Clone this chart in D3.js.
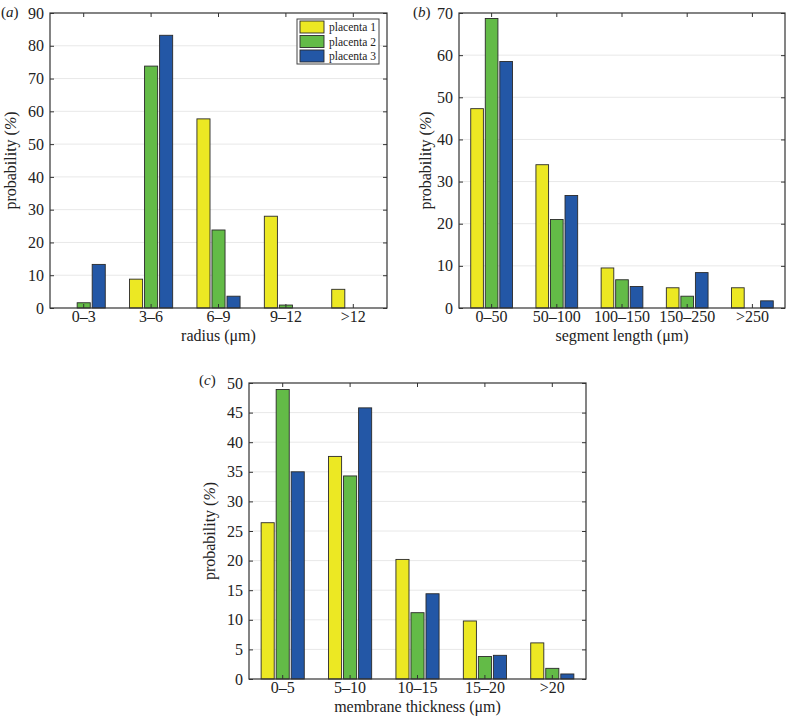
<!DOCTYPE html>
<html>
<head>
<meta charset="utf-8">
<script src="https://cdn.jsdelivr.net/npm/d3@7"></script>
<style>
  body { margin: 0; background: #fff; }
  svg { display: block; }
  text { font-family: "Liberation Serif", "DejaVu Serif", serif; fill: #222; }
</style>
</head>
<body>
<svg id="chart" width="797" height="721"></svg>
<script>
// ---- data ----
const seriesNames = ["placenta 1", "placenta 2", "placenta 3"];
const seriesColors = ["#ece823", "#63bb47", "#2357a6"];

const radiusCats = ["0–3", "3–6", "6–9", "9–12", ">12"];
const radiusP1 = [0, 8.8, 57.7, 28.0, 5.7];
const radiusP2 = [1.6, 73.8, 23.8, 0.9, 0];
const radiusP3 = [13.3, 83.2, 3.6, 0, 0];
const radiusTicks = [0, 10, 20, 30, 40, 50, 60, 70, 80, 90];

const segmentCats = ["0–50", "50–100", "100–150", "150–250", ">250"];
const segmentP1 = [47.3, 34.0, 9.5, 4.8, 4.8];
const segmentP2 = [68.7, 21.0, 6.7, 2.8, 0];
const segmentP3 = [58.5, 26.7, 5.1, 8.4, 1.7];
const segmentTicks = [0, 10, 20, 30, 40, 50, 60, 70];

const membraneCats = ["0–5", "5–10", "10–15", "15–20", ">20"];
const membraneP1 = [26.4, 37.6, 20.2, 9.8, 6.1];
const membraneP2 = [48.9, 34.3, 11.2, 3.8, 1.8];
const membraneP3 = [35.0, 45.8, 14.4, 4.0, 0.85];
const membraneTicks = [0, 5, 10, 15, 20, 25, 30, 35, 40, 45, 50];

const svg = d3.select("#chart");
const FS = "16px";

function panel(opts) {
  const { left, right, top, bottom, cats, series, ticks, xTitle, yTitleX, label, labelX, labelY, legend } = opts;
  const g = svg.append("g");
  const ymax = ticks[ticks.length - 1];
  const x = d3.scaleBand().domain(cats).range([left, right]).padding(0);
  const y = d3.scaleLinear().domain([0, ymax]).range([bottom, top]);
  const bw = x.bandwidth();
  const inner = d3.scaleBand().domain(d3.range(series.length))
    .range([-bw * 0.32, bw * 0.32]).paddingInner(0.13).paddingOuter(0);

  // gridlines
  g.selectAll(".grid").data(ticks.slice(1, -1)).enter().append("line")
    .attr("x1", left).attr("x2", right)
    .attr("y1", d => y(d)).attr("y2", d => y(d))
    .attr("stroke", "#e8e8e8").attr("stroke-width", 1);

  // bars
  series.forEach((vals, si) => {
    g.selectAll(".bar" + si).data(vals.map((v, i) => ({ c: cats[i], v })))
      .enter().filter(d => d.v > 0).append("rect")
      .attr("x", d => x(d.c) + bw / 2 + inner(si))
      .attr("width", inner.bandwidth())
      .attr("y", d => y(d.v))
      .attr("height", d => bottom - y(d.v))
      .attr("fill", seriesColors[si])
      .attr("stroke", "#2a2a2a").attr("stroke-width", 0.9);
  });

  // axes with inward ticks
  const yAxisL = d3.axisLeft(y).tickValues(ticks).tickSize(-4).tickPadding(6).tickFormat(d3.format("d"));
  const yAxisR = d3.axisRight(y).tickValues(ticks).tickSize(-4).tickFormat("");
  const xAxisB = d3.axisBottom(x).tickSize(-4).tickPadding(3);
  const xAxisT = d3.axisTop(x).tickSize(-4).tickFormat("");

  const styleAxis = sel => {
    sel.select(".domain").remove();
    sel.selectAll("line").attr("stroke", "#333");
    sel.selectAll("text").attr("font-size", FS).attr("fill", "#222");
  };
  g.append("g").attr("transform", `translate(${left},0)`).call(yAxisL).call(styleAxis);
  g.append("g").attr("transform", `translate(${right},0)`).call(yAxisR).call(styleAxis);
  g.append("g").attr("transform", `translate(0,${bottom})`).call(xAxisB).call(styleAxis);
  g.append("g").attr("transform", `translate(0,${top})`).call(xAxisT).call(styleAxis);

  // frame
  g.append("rect").attr("x", left).attr("y", top)
    .attr("width", right - left).attr("height", bottom - top)
    .attr("fill", "none").attr("stroke", "#333").attr("stroke-width", 1.2);

  // titles
  g.append("text").attr("x", (left + right) / 2).attr("y", bottom + 33)
    .attr("text-anchor", "middle").attr("font-size", FS).text(xTitle);
  const yt = g.append("text")
    .attr("transform", `translate(${yTitleX},${(top + bottom) / 2}) rotate(-90)`)
    .attr("text-anchor", "middle").attr("font-size", FS);
  yt.append("tspan").text("probability (");
  yt.append("tspan").attr("font-style", "italic").text("%");
  yt.append("tspan").text(")");

  const lt = g.append("text").attr("x", labelX).attr("y", labelY).attr("font-size", "15px");
  lt.append("tspan").text("(");
  lt.append("tspan").attr("font-style", "italic").text(label);
  lt.append("tspan").text(")");

  if (legend) {
    const lx = legend.x, ly = legend.y;
    const lg = g.append("g");
    lg.append("rect").attr("x", lx).attr("y", ly).attr("width", 82).attr("height", 45)
      .attr("fill", "#fff").attr("stroke", "#444").attr("stroke-width", 1);
    seriesNames.forEach((n, i) => {
      const cy = ly + 8 + i * 14.5;
      lg.append("rect").attr("x", lx + 3).attr("y", cy - 6).attr("width", 24).attr("height", 12)
        .attr("fill", seriesColors[i]).attr("stroke", "#2a2a2a").attr("stroke-width", 0.9);
      lg.append("text").attr("x", lx + 32).attr("y", cy + 4)
        .attr("font-size", "11.5px").text(n);
    });
  }
}

panel({
  left: 50, right: 387, top: 13, bottom: 308,
  cats: radiusCats, series: [radiusP1, radiusP2, radiusP3], ticks: radiusTicks,
  xTitle: "radius (μm)", yTitleX: 16, label: "a", labelX: 1, labelY: 17,
  legend: { x: 297, y: 19 }
});

panel({
  left: 459, right: 785, top: 13, bottom: 308,
  cats: segmentCats, series: [segmentP1, segmentP2, segmentP3], ticks: segmentTicks,
  xTitle: "segment length (μm)", yTitleX: 431, label: "b", labelX: 413, labelY: 17
});

panel({
  left: 249, right: 586, top: 383, bottom: 679,
  cats: membraneCats, series: [membraneP1, membraneP2, membraneP3], ticks: membraneTicks,
  xTitle: "membrane thickness (μm)", yTitleX: 215, label: "c", labelX: 199, labelY: 385
});
</script>
</body>
</html>
